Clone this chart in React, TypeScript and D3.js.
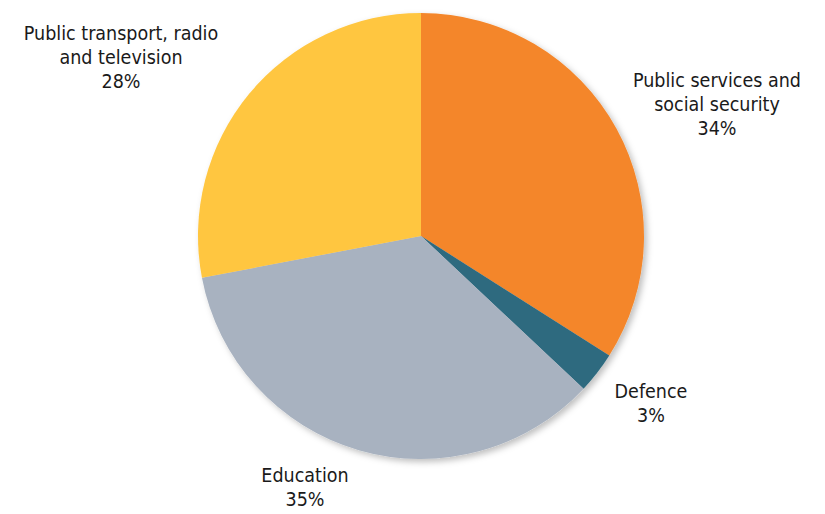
import React from "react";
import * as d3 from "d3";

const categories = ["Public services and social security", "Defence", "Education", "Public transport, radio and television"];
const values = [34, 3, 35, 28];
const colors = ["#F4862A", "#2D6A7F", "#A8B2C0", "#FFC640"];
const labelLines = [
  ["Public services and", "social security", "34%"],
  ["Defence", "3%"],
  ["Education", "35%"],
  ["Public transport, radio", "and television", "28%"],
];
const labelPos = [
  [717, 87],
  [651, 398],
  [305, 482],
  [121, 40],
];

export default function App() {
  const W = 825, H = 514;
  const cx = 421, cy = 236, r = 223;
  const pie = d3.pie<number>().sort(null).value((d) => d)(values);
  const arc = d3.arc<d3.PieArcDatum<number>>().innerRadius(0).outerRadius(r);
  return (
    <svg width={W} height={H} style={{ position: "absolute", left: 0, top: 0, background: "#fff" }}>
      <defs>
        <filter id="sh" x="-20%" y="-20%" width="140%" height="140%">
          <feDropShadow dx="3" dy="3" stdDeviation="3" floodColor="#000" floodOpacity="0.25" />
        </filter>
      </defs>
      <g transform={`translate(${cx},${cy})`} filter="url(#sh)">
        {pie.map((p, i) => (
          <path key={categories[i]} d={arc(p) || ""} fill={colors[i]} />
        ))}
      </g>
      {labelLines.map((lines, i) => (
        <text
          key={i}
          x={labelPos[i][0]}
          y={labelPos[i][1]}
          textAnchor="middle"
          fontFamily="'DejaVu Sans Condensed', 'DejaVu Sans', sans-serif"
          fontSize={19.5}
          fill="#1a1a1a"
        >
          {lines.map((l, j) => (
            <tspan key={j} x={labelPos[i][0]} dy={j === 0 ? 0 : 24}>
              {l}
            </tspan>
          ))}
        </text>
      ))}
    </svg>
  );
}
